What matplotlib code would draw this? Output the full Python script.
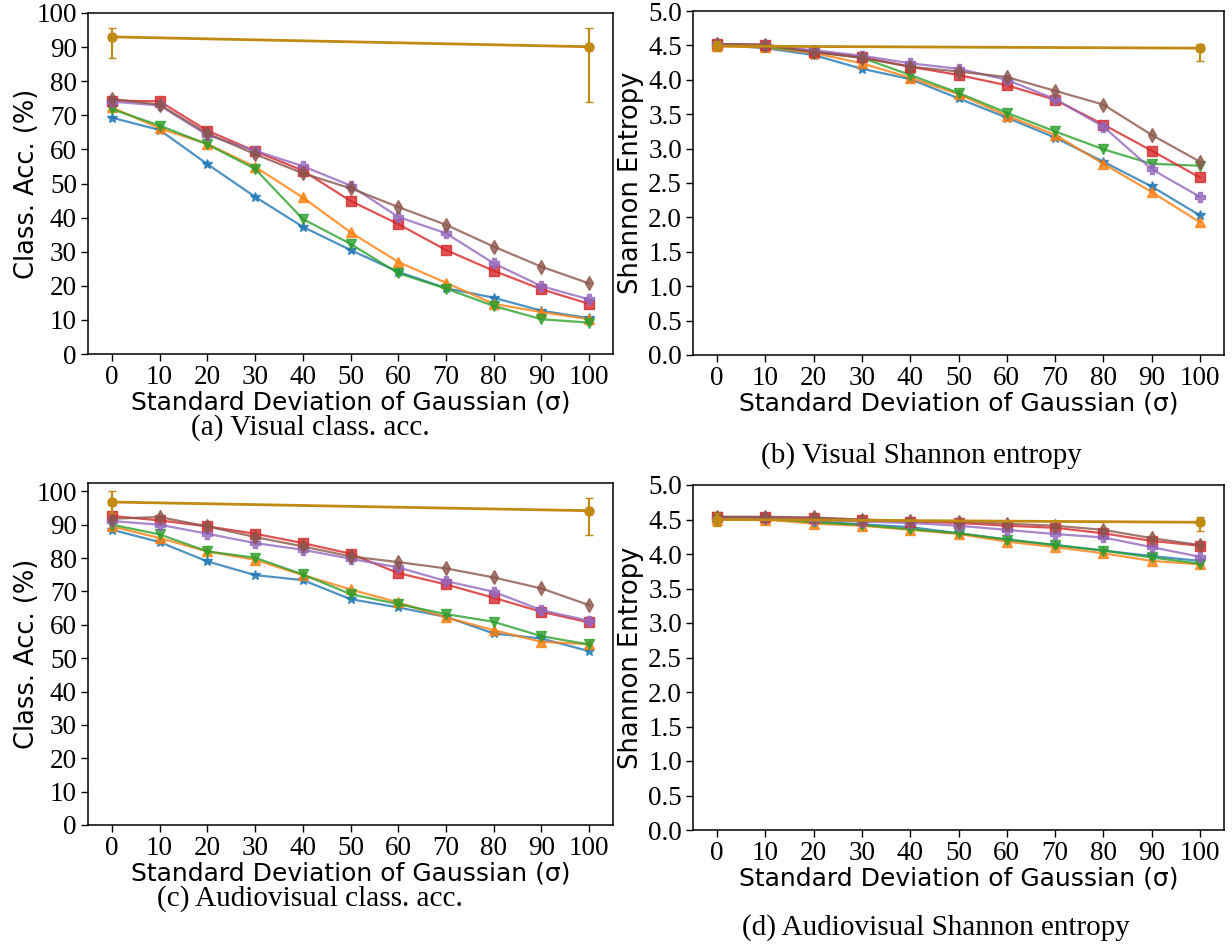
import matplotlib
matplotlib.use('Agg')
import matplotlib.pyplot as plt
import numpy as np

sigma = [0, 10, 20, 30, 40, 50, 60, 70, 80, 90, 100]
sigma_ends = [0, 100]

# (a) visual classification accuracy (%)
vis_acc = {
    'C0': [69.3, 65.7, 55.7, 46.1, 37.3, 30.5, 24.1, 19.3, 16.5, 12.7, 10.5],
    'C1': [72.3, 66.2, 61.6, 54.9, 45.9, 35.7, 27.0, 20.9, 14.7, 12.3, 10.2],
    'C2': [71.8, 67.0, 61.5, 54.3, 39.6, 32.3, 23.7, 19.2, 14.1, 10.2, 9.2],
    'C3': [74.3, 74.1, 65.5, 59.5, 53.8, 44.9, 38.1, 30.5, 24.4, 19.0, 14.7],
    'C4': [74.0, 72.9, 64.2, 59.6, 55.1, 49.4, 40.2, 35.4, 26.6, 19.9, 16.0],
    'C5': [74.8, 73.1, 64.7, 58.6, 53.0, 48.6, 43.1, 37.9, 31.5, 25.6, 20.7],
}
vis_acc_ref = [93.0, 90.1]
vis_acc_err = [[6.1, 16.2], [2.6, 5.5]]

# (b) visual Shannon entropy
vis_ent = {
    'C0': [4.51, 4.46, 4.36, 4.16, 4.01, 3.73, 3.45, 3.16, 2.81, 2.45, 2.03],
    'C1': [4.49, 4.47, 4.39, 4.24, 4.03, 3.79, 3.48, 3.20, 2.78, 2.37, 1.93],
    'C2': [4.51, 4.48, 4.41, 4.32, 4.07, 3.81, 3.52, 3.25, 2.99, 2.78, 2.75],
    'C3': [4.52, 4.51, 4.41, 4.33, 4.19, 4.07, 3.92, 3.71, 3.35, 2.97, 2.58],
    'C4': [4.52, 4.50, 4.43, 4.35, 4.24, 4.16, 4.00, 3.72, 3.32, 2.70, 2.30],
    'C5': [4.52, 4.51, 4.40, 4.32, 4.19, 4.12, 4.04, 3.84, 3.64, 3.20, 2.81],
}
vis_ent_ref = [4.49, 4.46]
vis_ent_err = [[0.07, 0.18], [0.07, 0.06]]

# (c) audiovisual classification accuracy (%)
av_acc = {
    'C0': [88.5, 84.8, 79.0, 74.9, 73.4, 67.7, 65.2, 62.4, 57.4, 55.9, 52.1],
    'C1': [89.5, 86.0, 82.0, 79.5, 74.9, 70.6, 66.7, 62.2, 58.4, 54.9, 54.2],
    'C2': [90.0, 87.1, 82.0, 80.1, 75.1, 69.2, 66.2, 63.2, 60.9, 56.6, 54.1],
    'C3': [92.6, 91.3, 89.5, 87.3, 84.5, 81.3, 75.5, 72.1, 68.1, 63.9, 60.7],
    'C4': [91.1, 90.0, 87.3, 84.5, 82.5, 79.8, 77.2, 73.1, 69.9, 64.4, 61.2],
    'C5': [91.8, 92.3, 89.5, 86.3, 83.5, 80.5, 78.8, 76.9, 74.2, 70.9, 65.9],
}
av_acc_ref = [96.8, 94.2]
av_acc_err = [[3.3, 7.2], [3.3, 3.7]]

# (d) audiovisual Shannon entropy
av_ent = {
    'C0': [4.53, 4.52, 4.47, 4.43, 4.39, 4.30, 4.21, 4.13, 4.05, 3.97, 3.90],
    'C1': [4.50, 4.50, 4.44, 4.41, 4.35, 4.29, 4.18, 4.10, 4.01, 3.90, 3.85],
    'C2': [4.53, 4.51, 4.46, 4.42, 4.36, 4.30, 4.21, 4.13, 4.05, 3.95, 3.86],
    'C3': [4.53, 4.53, 4.52, 4.49, 4.47, 4.45, 4.41, 4.38, 4.30, 4.19, 4.12],
    'C4': [4.52, 4.52, 4.49, 4.47, 4.45, 4.41, 4.35, 4.29, 4.24, 4.10, 3.96],
    'C5': [4.54, 4.54, 4.53, 4.50, 4.48, 4.47, 4.44, 4.41, 4.35, 4.23, 4.13],
}
av_ent_ref = [4.50, 4.46]
av_ent_err = [[0.10, 0.13], [0.10, 0.08]]

markers = {'C0': '*', 'C1': '^', 'C2': 'v', 'C3': 's', 'C4': 'P', 'C5': 'd'}
ref_color = '#c18a12'

W, H = 1232, 944
fig = plt.figure(figsize=(W / 100, H / 100), dpi=100)


def px_axes(left, top, right, bottom):
    return fig.add_axes([left / W, 1 - bottom / H, (right - left) / W, (bottom - top) / H])


def draw(ax, series, ref, ref_err, ylabel, caption, cap_xy):
    for c, vals in series.items():
        ax.plot(sigma, vals, color=c, marker=markers[c], lw=1.6, ms=7.5, alpha=0.8)
    ax.errorbar(sigma_ends, ref, yerr=ref_err, color=ref_color, marker='o', ms=6.5,
                lw=2, capsize=3, elinewidth=1.5)
    ax.set_xticks(sigma)
    ax.set_xlabel('Standard Deviation of Gaussian (σ)', fontsize=18, family='DejaVu Sans', labelpad=0)
    ax.set_ylabel(ylabel, fontsize=18.5, family='DejaVu Sans')
    ax.yaxis.set_label_coords(-0.092, 0.5)
    ax.tick_params(labelsize=19.5, labelfontfamily='Liberation Serif', width=1, length=5, pad=3)
    for s in ax.spines.values():
        s.set_linewidth(1.1)
    fig.text(cap_xy[0] / W, 1 - cap_xy[1] / H, caption, ha='center', va='center',
             fontsize=21, family='Liberation Serif')


ax_a = px_axes(88, 13, 613, 354)
draw(ax_a, vis_acc, vis_acc_ref, vis_acc_err, 'Class. Acc. (%)', '(a) Visual class. acc.', (310, 428))
ax_a.set_ylim(0, 100)
ax_a.set_yticks(np.arange(0, 101, 10))

ax_b = px_axes(693, 11, 1224, 355)
draw(ax_b, vis_ent, vis_ent_ref, vis_ent_err, 'Shannon Entropy', '(b) Visual Shannon entropy', (921, 456))
ax_b.set_ylim(0, 5)
ax_b.set_yticks(np.arange(0, 5.01, 0.5))
ax_b.set_yticklabels([f'{v:.1f}' for v in np.arange(0, 5.01, 0.5)])

ax_c = px_axes(88, 483, 613, 825)
draw(ax_c, av_acc, av_acc_ref, av_acc_err, 'Class. Acc. (%)', '(c) Audiovisual class. acc.', (310, 899))
ax_c.set_ylim(bottom=0)
ax_c.set_yticks(np.arange(0, 101, 10))

ax_d = px_axes(693, 485, 1224, 830)
draw(ax_d, av_ent, av_ent_ref, av_ent_err, 'Shannon Entropy', '(d) Audiovisual Shannon entropy', (936, 928))
ax_d.set_ylim(0, 5)
ax_d.set_yticks(np.arange(0, 5.01, 0.5))
ax_d.set_yticklabels([f'{v:.1f}' for v in np.arange(0, 5.01, 0.5)])

fig.savefig('out.png', dpi=100)
